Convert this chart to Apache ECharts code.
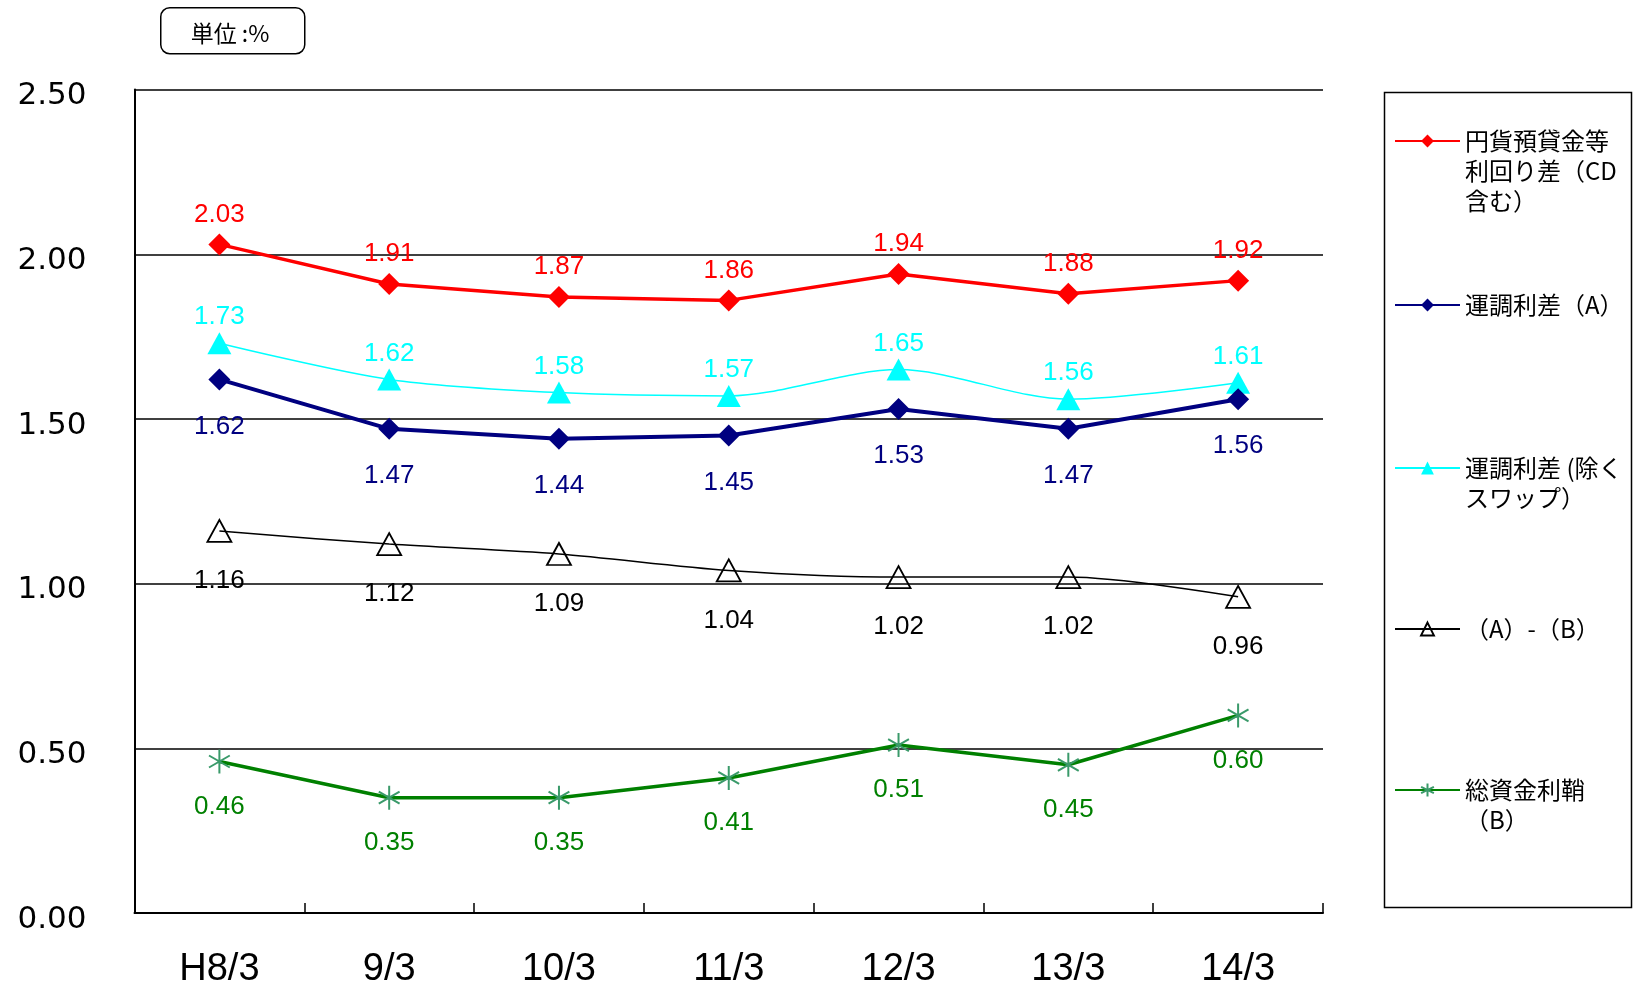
<!DOCTYPE html>
<html>
<head>
<meta charset="utf-8">
<script src="https://cdn.jsdelivr.net/npm/echarts@6/dist/echarts.min.js"></script>
<style>
  html, body { margin: 0; padding: 0; background: #fff; }
  #chart { width: 1634px; height: 989px; }
</style>
</head>
<body>
<div id="chart"></div>
<script>
// Fiscal year-end periods
const categories = ['H8/3', '9/3', '10/3', '11/3', '12/3', '13/3', '14/3'];

// Spread series (%)
const yenLoanDepositSpread = [2.03, 1.91, 1.87, 1.86, 1.94, 1.88, 1.92];
const operatingSpreadA     = [1.62, 1.47, 1.44, 1.45, 1.53, 1.47, 1.56];
const operatingSpreadExSwap = [1.73, 1.62, 1.58, 1.57, 1.65, 1.56, 1.61];
const spreadAminusB        = [1.16, 1.12, 1.09, 1.04, 1.02, 1.02, 0.96];
const overallMarginB       = [0.46, 0.35, 0.35, 0.41, 0.51, 0.45, 0.60];

// Legend entries, one string per visual line
const seriesNames = [
  ['円貨預貸金等', '利回り差（CD', '含む）'],
  ['運調利差（A）'],
  ['運調利差 (除く', 'スワップ）'],
  ['（A）-（B）'],
  ['総資金利鞘', '（B）']
];
const seriesKeys = seriesNames.map(lines => lines.join(''));

const yTicks = { min: 0, max: 2.5, interval: 0.5 };

const numFont = '"Liberation Sans", Arial, sans-serif';
const jpFont = '"Noto Sans CJK JP", sans-serif';
const LH = 30;

const asterisk = 'path://M12,0 L12,24 M1.6,6 L22.4,18 M1.6,18 L22.4,6';

function dataLabel(color, dy) {
  return {
    show: true,
    position: 'inside',
    offset: [0, dy],
    color: color,
    fontFamily: numFont,
    fontSize: 26,
    formatter: p => p.value.toFixed(2)
  };
}

// One legend block per series; leading blank lines keep the icon level with the first text line
function legendFor(idx, centerY) {
  const lines = seriesNames[idx];
  const n = lines.length;
  const label = Array(n - 1).fill('').concat(lines).join('\n');
  return {
    data: [seriesKeys[idx]],
    left: 1394,
    top: centerY - (2 * n - 1) * LH / 2,
    orient: 'vertical',
    padding: 0,
    itemWidth: 65,
    itemHeight: 16,
    selectedMode: false,
    formatter: () => label,
    textStyle: {
      fontFamily: jpFont,
      fontSize: 24,
      color: '#000',
      lineHeight: LH
    }
  };
}

const chart = echarts.init(document.getElementById('chart'), null, { renderer: 'canvas' });

chart.setOption({
  backgroundColor: '#fff',
  animation: false,
  grid: { left: 134.5, right: 311, top: 89.6, bottom: 73 },
  legend: [
    legendFor(0, 141),
    legendFor(1, 305),
    legendFor(2, 468),
    legendFor(3, 629),
    legendFor(4, 790)
  ],
  graphic: [
    {
      type: 'rect',
      left: 160, top: 7,
      shape: { width: 144, height: 46, r: 9 },
      style: { fill: '#fff', stroke: '#000', lineWidth: 1.5 }
    },
    {
      type: 'text',
      x: 230, y: 33,
      style: {
        text: '単位 :%',
        font: '23px "Noto Sans CJK JP", sans-serif',
        fill: '#000',
        align: 'center',
        verticalAlign: 'middle'
      }
    },
    {
      type: 'rect',
      left: 1382, top: 90,
      shape: { width: 247, height: 815 },
      style: { fill: 'none', stroke: '#000', lineWidth: 1.5 },
      z: -1
    }
  ],
  xAxis: {
    type: 'category',
    data: categories,
    boundaryGap: true,
    axisLine: { lineStyle: { color: '#000', width: 2 } },
    axisTick: { show: true, inside: true, length: 10, lineStyle: { color: '#000', width: 1.5 } },
    axisLabel: {
      margin: 38,
      color: '#000',
      fontFamily: numFont,
      fontSize: 38
    },
    splitLine: { show: false }
  },
  yAxis: {
    type: 'value',
    min: yTicks.min,
    max: yTicks.max,
    interval: yTicks.interval,
    axisLine: { show: true, lineStyle: { color: '#000', width: 2 } },
    axisTick: { show: false },
    axisLabel: {
      margin: 48,
      color: '#000',
      fontFamily: '"DejaVu Sans", sans-serif',
      fontSize: 31,
      verticalAlign: 'top',
      lineHeight: 13,
      formatter: v => v.toFixed(2)
    },
    splitLine: { show: true, lineStyle: { color: '#000', width: 1.5 } }
  },
  series: [
    {
      name: seriesKeys[0],
      type: 'line',
      data: yenLoanDepositSpread,
      symbol: 'diamond',
      symbolSize: [22, 22],
      lineStyle: { color: '#ff0000', width: 3.5 },
      itemStyle: { color: '#ff0000' },
      label: dataLabel('#ff0000', -30),
      z: 5
    },
    {
      name: seriesKeys[1],
      type: 'line',
      data: operatingSpreadA,
      symbol: 'diamond',
      symbolSize: [22, 22],
      lineStyle: { color: '#000080', width: 4 },
      itemStyle: { color: '#000080' },
      label: dataLabel('#000080', 47),
      z: 4
    },
    {
      name: seriesKeys[2],
      type: 'line',
      data: operatingSpreadExSwap,
      smooth: 0.3,
      symbol: 'triangle',
      symbolSize: [24, 22],
      lineStyle: { color: '#00ffff', width: 1.5 },
      itemStyle: { color: '#00ffff' },
      label: dataLabel('#00ffff', -26),
      z: 3
    },
    {
      name: seriesKeys[3],
      type: 'line',
      data: spreadAminusB,
      smooth: 0.3,
      symbol: 'triangle',
      symbolSize: [24, 22],
      lineStyle: { color: '#000', width: 1.5 },
      itemStyle: { color: 'rgba(255,255,255,0)', borderColor: '#000', borderWidth: 1.8 },
      label: dataLabel('#000', 50),
      z: 3
    },
    {
      name: seriesKeys[4],
      type: 'line',
      data: overallMarginB,
      symbol: asterisk,
      symbolKeepAspect: true,
      symbolSize: 24,
      lineStyle: { color: '#008000', width: 3.5 },
      itemStyle: { color: 'rgba(255,255,255,0)', borderColor: '#3a9a6a', borderWidth: 2 },
      label: dataLabel('#008000', 45),
      z: 4
    }
  ]
});
</script>
</body>
</html>
